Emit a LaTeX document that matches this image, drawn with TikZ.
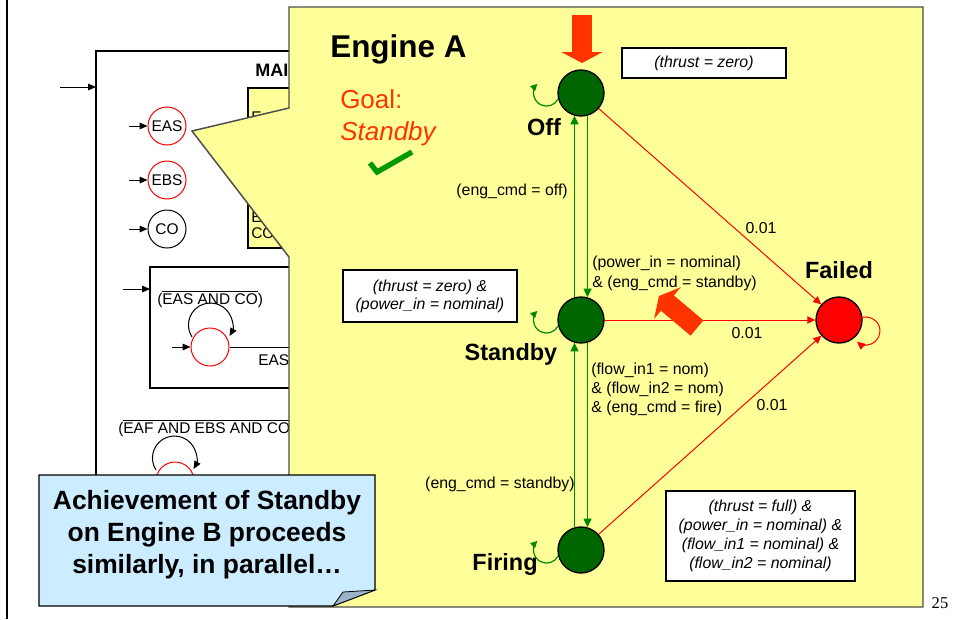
\documentclass[tikz,border=0pt]{standalone}
\usepackage{fontspec}
\setmainfont{Liberation Sans}
\newfontfamily\slidenumfont{Liberation Serif}
\usepackage{tikz}
\usetikzlibrary{arrows.meta,positioning,calc}
\definecolor{panelyellow}{HTML}{FFFF99}
\definecolor{stategreen}{HTML}{006600}
\definecolor{arcgreen}{HTML}{008800}
\definecolor{tickgreen}{HTML}{009900}
\definecolor{hotred}{HTML}{FF3300}
\definecolor{notesky}{HTML}{CCECFF}
\definecolor{foldblue}{HTML}{9DB4C8}
\tikzset{
    modenode/.style={circle, draw=black, line width=1pt, minimum size=34.5pt, inner sep=0pt, fill=stategreen},
    mini/.style={circle, draw=red, line width=0.75pt, minimum size=28.5pt, inner sep=0pt, font=\fontsize{11.6}{14}\selectfont},
    statelbl/.style={font=\bfseries\fontsize{17.6}{20}\selectfont, inner sep=0pt, anchor=base},
    trans/.style={-{Triangle[width=6pt,length=6.5pt]}, arcgreen, line width=1.1pt},
    selfloop/.style={-{Triangle[width=5pt,length=5pt]}, arcgreen, line width=0.9pt},
    fail/.style={-{Triangle[width=5.5pt,length=6pt]}, red, line width=0.75pt},
    guard/.style={font=\fontsize{11.9}{15}\selectfont, inner sep=0pt, align=left},
    prob/.style={font=\fontsize{11.9}{15}\selectfont, inner sep=0pt},
    cond/.style={draw=black, fill=white, line width=0.8pt, align=center, font=\itshape\fontsize{11.9}{14.25}\selectfont, inner sep=2pt},
    bigptr/.style={hotred, line width=15pt, -{Triangle[width=30.75pt,length=8.25pt]}},
    ptr/.style={-{Triangle[width=5pt,length=6pt]}, black, line width=0.75pt},
    oldtxt/.style={font=\fontsize{11.6}{14}\selectfont, inner sep=0pt}
}

\begin{document}
\begin{tikzpicture}[x=0.75pt, y=0.75pt]
  \fill[white] (0,0) rectangle (953,-619);
  \useasboundingbox (0,0) rectangle (953,-619);

  % Slide underneath (cut off by the zoom panel)
  \begin{scope}
    \clip (0,0) rectangle (289,-619);
    \draw[line width=1.6pt] (7,0) -- (7,-619);
    \draw[line width=1.5pt] (96,-51) rectangle (420,-600);
    \coordinate (mainin) at (60,-87);
    \coordinate (mainedge) at (96,-87);
    \draw[ptr] (mainin) -- (mainedge);
    \node[font=\bfseries\fontsize{13.5}{16}\selectfont, anchor=west, inner sep=0pt] (maintitle) at (255,-70) {MAI};

    \draw[line width=2.2pt, fill=panelyellow] (248,-88) rectangle (420,-248);
    \node[oldtxt, anchor=west] (ctlA) at (251,-117) {E};
    \node[oldtxt, anchor=west] (ctlB) at (251,-217) {E};
    \node[oldtxt, anchor=west] (ctlC) at (251,-233) {CO};

    \node[mini] (eas) at (167,-126) {EAS};
    \node[mini] (ebs) at (167,-180) {EBS};
    \node[mini, draw=black] (co) at (167,-229) {CO};
    \foreach \m in {eas,ebs,co} {
      \coordinate (\m-in) at ([xshift=-14.25pt]\m.west);
      \draw[ptr] (\m-in) -- (\m);
    }

    \draw[line width=1.1pt] (150,-267) rectangle (420,-388);
    \coordinate (subin) at (123,-289);
    \coordinate (subedge) at (150,-289);
    \draw[ptr] (subin) -- (subedge);
    \node[oldtxt, anchor=west] (guardea) at (157,-299) {(\ensuremath{\overline{\mbox{EAS AND CO}}})};
    \node[mini] (sub1) at (210,-347) {};
    \coordinate (sub1in) at (172,-347);
    \draw[ptr] (sub1in) -- (sub1);
    \draw[ptr] ($(sub1.center)+(-18,10)$) arc[start angle=213, end angle=-30, radius=22];
    \coordinate (sub1out) at (300,-347);
    \draw[line width=0.75pt] (sub1) -- (sub1out);
    \node[oldtxt, anchor=west] (easlbl) at (258,-360) {EAS};

    \node[oldtxt, anchor=west] (guardeaf) at (118,-428) {(\ensuremath{\overline{\mbox{EAF AND EBS AND CO}}}};
    \node[mini] (sub2) at (175,-481) {};
    \draw[ptr] ($(sub2.center)+(-19,11)$) arc[start angle=213, end angle=-30, radius=22];
  \end{scope}

  % Zoom panel with its tail
  \draw[draw=black!70, line width=1.1pt, fill=panelyellow] (289,-7) -- (923,-7) -- (923,-607) -- (289,-607)
    -- (289,-257) -- (192,-131) -- (289,-108) -- cycle;

  \node[font=\bfseries\fontsize{23.6}{28}\selectfont, anchor=base west, inner sep=0pt] (engine) at (330,-57) {Engine A};
  \node[font=\fontsize{19.5}{24}\selectfont, text=hotred, anchor=base west, inner sep=0pt] (goal) at (340,-108) {Goal:};
  \node[font=\itshape\fontsize{19.5}{24}\selectfont, text=hotred, anchor=base west, inner sep=0pt] (goalmode) at (340,-140) {Standby};
  \draw[tickgreen, line width=4pt] (370,-163) -- (377,-172) -- (412,-152);

  % States
  \node[modenode] (off) at (581,-93) {};
  \node[modenode] (standby) at (581,-320) {};
  \node[modenode] (firing) at (581,-550) {};
  \node[modenode, fill=red] (failed) at (839,-320) {};

  \node[statelbl] (offlbl) at (544,-135) {Off};
  \node[statelbl] (standbylbl) at (511,-360) {Standby};
  \node[statelbl] (firinglbl) at (505,-570) {Firing};
  \node[statelbl] (failedlbl) at (839,-278) {Failed};

  % Self loops
  \foreach \s in {off,standby,firing}
    \draw[selfloop] ($(\s.center)+(-22.9,-6)$) arc[start angle=-27, end angle=-225, radius=13];
  \draw[fail] ($(failed.center)+(22.2,2.2)$) arc[start angle=110, end angle=-130, radius=14];

  % Commanded transitions
  \draw[trans] (off.-74) -- (standby.74);
  \draw[trans] (standby.106) -- (off.-106);
  \draw[trans] (standby.-74) -- (firing.74);
  \draw[trans] (firing.106) -- (standby.-106);

  \node[guard, anchor=east] (g1) at (568,-191) {(eng\_cmd = off)};
  \node[guard, anchor=west] (g2) at (592,-273) {(power\_in = nominal)\\\& (eng\_cmd = standby)};
  \node[guard, anchor=west, font=\fontsize{11.9}{14.25}\selectfont] (g3) at (591,-389) {(flow\_in1 = nom)\\\& (flow\_in2 = nom)\\\& (eng\_cmd = fire)};
  \node[guard, anchor=east] (g4) at (575,-484) {(eng\_cmd = standby)};

  % Failure transitions
  \draw[fail] (off) -- (failed);
  \draw[fail] (standby) -- (failed);
  \draw[fail] (firing) -- (failed);
  \node[prob] (p1) at (761,-228) {0.01};
  \node[prob] (p2) at (747,-333) {0.01};
  \node[prob] (p3) at (772,-405) {0.01};

  % Observations
  \node[cond, minimum width=123pt, minimum height=22.5pt] (c1) at (704,-63) {(thrust = zero)};
  \node[cond, minimum width=130.5pt, minimum height=39pt, font=\itshape\fontsize{11.9}{13.5}\selectfont] (c2) at (430,-296) {(thrust = zero) \&\\(power\_in = nominal)};
  \node[cond, minimum width=141.75pt, minimum height=67.5pt] (c3) at (760.5,-536) {(thrust = full) \&\\(power\_in = nominal) \&\\(flow\_in1 = nominal) \&\\(flow\_in2 = nominal)};

  % Big pointers
  \coordinate (cuetail) at (582,-15);
  \coordinate (cuetip) at (582,-63);
  \draw[bigptr] (cuetail) -- (cuetip);
  \coordinate (nudgetail) at (697,-328);
  \coordinate (nudgetip) at (659,-296);
  \draw[bigptr] (nudgetail) -- (nudgetip);

  % Note
  \draw[fill=notesky, line width=0.8pt] (39,-475) -- (375,-475) -- (375,-590) -- (333,-606) -- (39,-606) -- cycle;
  \draw[fill=foldblue, line width=0.6pt] (375,-590) -- (343,-592) -- (333,-606) -- cycle;
  \node[font=\bfseries\fontsize{19.8}{24}\selectfont, align=center, inner sep=0pt] (note) at (207,-535) {Achievement of Standby\\on Engine B proceeds\\similarly, in parallel\ldots};

  \node[font=\slidenumfont\fontsize{12.4}{14}\selectfont, anchor=base, inner sep=0pt] (pagenum) at (940,-608) {25};
\end{tikzpicture}
\end{document}
